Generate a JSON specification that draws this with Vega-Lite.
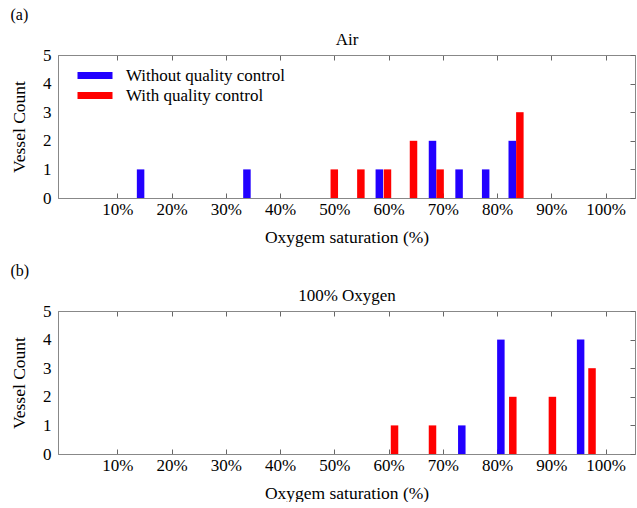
{
  "$schema": "https://vega.github.io/schema/vega-lite/v6.json",
  "padding": {"left": 10, "top": 6, "right": 0, "bottom": 0},
  "config": {
    "font": "Liberation Serif",
    "view": {"stroke": "#888888", "strokeWidth": 1},
    "axis": {"domainColor": "#888888", "tickColor": "#666666", "grid": false, "labelFont": "Liberation Serif", "labelFontSize": 17, "labelColor": "black", "titleFont": "Liberation Serif", "titleFontSize": 17.5, "titleFontWeight": "normal", "titleColor": "black"},
    "legend": {"symbolType": "M-2.5,-0.5H2.5V0.5H-2.5Z", "symbolSize": 196, "symbolStrokeWidth": 0, "labelFont": "Liberation Serif", "labelFontSize": 17, "labelColor": "black", "labelOffset": 22.5, "padding": 0, "offset": 12, "symbolOffset": 16.5, "rowPadding": 2},
    "title": {"font": "Liberation Serif", "fontSize": 16, "fontWeight": "normal", "anchor": "start", "frame": "bounds", "color": "black"},
    "concat": {"spacing": 16}
  },
  "datasets": {
    "air": [
      {"series": "Without quality control", "sat": 14.3, "count": 1},
      {"series": "Without quality control", "sat": 33.9, "count": 1},
      {"series": "Without quality control", "sat": 58.3, "count": 1},
      {"series": "Without quality control", "sat": 68.1, "count": 2},
      {"series": "Without quality control", "sat": 73.0, "count": 1},
      {"series": "Without quality control", "sat": 77.9, "count": 1},
      {"series": "Without quality control", "sat": 82.8, "count": 2},
      {"series": "With quality control", "sat": 50.0, "count": 1},
      {"series": "With quality control", "sat": 54.9, "count": 1},
      {"series": "With quality control", "sat": 59.8, "count": 1},
      {"series": "With quality control", "sat": 64.6, "count": 2},
      {"series": "With quality control", "sat": 69.5, "count": 1},
      {"series": "With quality control", "sat": 84.2, "count": 3}
    ],
    "oxy": [
      {"series": "Without quality control", "sat": 73.5, "count": 1},
      {"series": "Without quality control", "sat": 80.7, "count": 4},
      {"series": "Without quality control", "sat": 95.4, "count": 4},
      {"series": "With quality control", "sat": 61.1, "count": 1},
      {"series": "With quality control", "sat": 68.1, "count": 1},
      {"series": "With quality control", "sat": 82.9, "count": 2},
      {"series": "With quality control", "sat": 90.2, "count": 2},
      {"series": "With quality control", "sat": 97.5, "count": 3}
    ]
  },
  "vconcat": [
    {
      "title": {"text": "(a)", "offset": 8},
      "width": 577, "height": 143,
      "data": {"name": "air"},
      "layer": [
        {
          "mark": {"type": "bar", "size": 7.5},
          "encoding": {
            "x": {"field": "sat", "type": "quantitative", "scale": {"domain": [0, 104.5], "nice": false, "zero": false},
                  "axis": {"orient": "bottom", "values": [10, 20, 30, 40, 50, 60, 70, 80, 90, 100], "labelExpr": "datum.value + '%'", "title": "Oxygem saturation (%)", "tickSize": -5, "labelPadding": 8, "titlePadding": 11}},
            "y": {"field": "count", "type": "quantitative", "scale": {"domain": [0, 5], "nice": false},
                  "axis": {"orient": "left", "values": [0, 1, 2, 3, 4, 5], "ticks": false, "labelPadding": 7, "title": "Vessel Count", "titlePadding": 14}},
            "color": {"field": "series", "type": "nominal", "scale": {"domain": ["Without quality control", "With quality control"], "range": ["#2200ff", "#ff0000"]},
                      "legend": {"title": null, "orient": "top-left"}}
          }
        },
        {
          "mark": {"type": "bar", "size": 7.5, "opacity": 0},
          "encoding": {
            "x": {"field": "sat", "type": "quantitative", "scale": {"domain": [0, 104.5], "nice": false, "zero": false},
                  "axis": {"orient": "top", "values": [10, 20, 30, 40, 50, 60, 70, 80, 90, 100], "labels": false, "tickSize": -5, "title": "Air", "titleFontSize": 17, "titlePadding": 6}},
            "y": {"field": "count", "type": "quantitative", "scale": {"domain": [0, 5], "nice": false},
                  "axis": {"orient": "right", "values": [0, 1, 2, 3, 4, 5], "labels": false, "tickSize": -5, "title": null}}
          }
        }
      ],
      "resolve": {"axis": {"x": "independent", "y": "independent"}}
    },
    {
      "title": {"text": "(b)", "offset": 8},
      "width": 577, "height": 143,
      "data": {"name": "oxy"},
      "layer": [
        {
          "mark": {"type": "bar", "size": 7.5},
          "encoding": {
            "x": {"field": "sat", "type": "quantitative", "scale": {"domain": [0, 104.5], "nice": false, "zero": false},
                  "axis": {"orient": "bottom", "values": [10, 20, 30, 40, 50, 60, 70, 80, 90, 100], "labelExpr": "datum.value + '%'", "title": "Oxygem saturation (%)", "tickSize": -5, "labelPadding": 8, "titlePadding": 11}},
            "y": {"field": "count", "type": "quantitative", "scale": {"domain": [0, 5], "nice": false},
                  "axis": {"orient": "left", "values": [0, 1, 2, 3, 4, 5], "ticks": false, "labelPadding": 7, "title": "Vessel Count", "titlePadding": 14}},
            "color": {"field": "series", "type": "nominal", "scale": {"domain": ["Without quality control", "With quality control"], "range": ["#2200ff", "#ff0000"]},
                      "legend": {"title": null, "orient": "top-left"}}
          }
        },
        {
          "mark": {"type": "bar", "size": 7.5, "opacity": 0},
          "encoding": {
            "x": {"field": "sat", "type": "quantitative", "scale": {"domain": [0, 104.5], "nice": false, "zero": false},
                  "axis": {"orient": "top", "values": [10, 20, 30, 40, 50, 60, 70, 80, 90, 100], "labels": false, "tickSize": -5, "title": "100% Oxygen", "titleFontSize": 17, "titlePadding": 6}},
            "y": {"field": "count", "type": "quantitative", "scale": {"domain": [0, 5], "nice": false},
                  "axis": {"orient": "right", "values": [0, 1, 2, 3, 4, 5], "labels": false, "tickSize": -5, "title": null}}
          }
        }
      ],
      "resolve": {"axis": {"x": "independent", "y": "independent"}}
    }
  ]
}
